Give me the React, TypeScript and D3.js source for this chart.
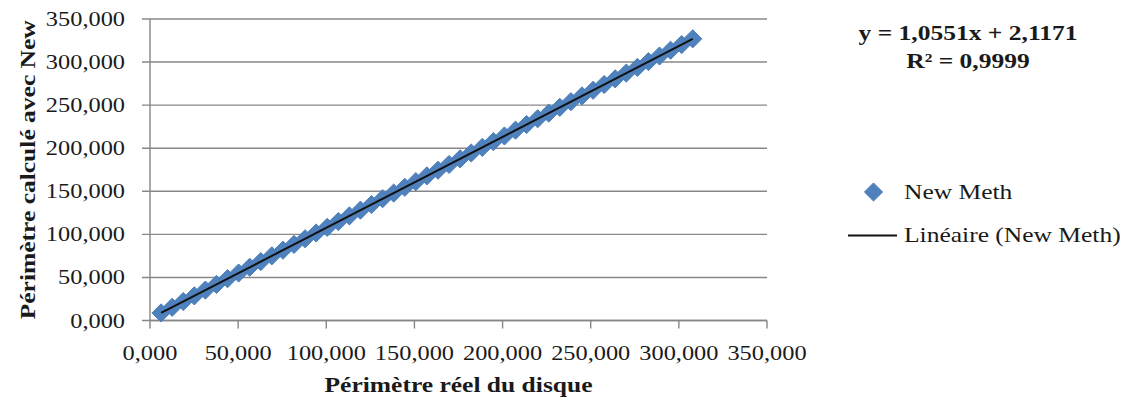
import React from "react";
import * as d3 from "d3";

const perimetreReel = [
  6.283, 12.566, 18.85, 25.133, 31.416, 37.699, 43.982, 50.265, 56.549, 62.832,
  69.115, 75.398, 81.681, 87.965, 94.248, 100.531, 106.814, 113.097, 119.381, 125.664,
  131.947, 138.23, 144.513, 150.796, 157.08, 163.363, 169.646, 175.929, 182.212, 188.496,
  194.779, 201.062, 207.345, 213.628, 219.911, 226.195, 232.478, 238.761, 245.044, 251.327,
  257.611, 263.894, 270.177, 276.46, 282.743, 289.027, 295.31, 301.593, 307.876,
];
const perimetreNew = [
  8.81, 15.32, 22.05, 28.6, 35.31, 41.85, 48.57, 55.11, 61.83, 68.37,
  75.08, 81.62, 88.35, 94.89, 101.6, 108.15, 114.86, 121.4, 128.12, 134.66,
  141.38, 147.92, 154.63, 161.18, 167.9, 174.44, 181.15, 187.7, 194.41, 200.96,
  207.68, 214.22, 220.93, 227.48, 234.2, 240.74, 247.45, 254.0, 260.72, 267.26,
  273.97, 280.52, 287.24, 293.78, 300.49, 307.04, 313.76, 320.3, 327.01,
];
const xTicks = [0, 50, 100, 150, 200, 250, 300, 350];
const yTicks = [0, 50, 100, 150, 200, 250, 300, 350];
const seriesName = "New Meth";
const trendName = "Linéaire (New Meth)";
const xTitle = "Périmètre réel du disque";
const yTitle = "Périmètre calculé avec New";
const equationLines = ["y = 1,0551x + 2,1171", "R² = 0,9999"];

const FONT = "'Liberation Serif', 'Times New Roman', serif";
const SX = 1.16;
const GRID = "#878787";
const BLUE = "#4F81BD";

const fmt = (v: number) => d3.format(".3f")(v).replace(".", ",");

function T(props: {
  x: number; y: number; children: React.ReactNode; anchor?: string; size?: number; bold?: boolean; rotate?: number;
}) {
  const { x, y, anchor = "start", size = 22, bold = false, rotate = 0 } = props;
  return (
    <text
      transform={`translate(${x},${y}) rotate(${rotate}) scale(${SX},1)`}
      textAnchor={anchor}
      fontFamily={FONT}
      fontSize={size}
      fontWeight={bold ? "bold" : "normal"}
      fill="#1a1a1a"
    >
      {props.children}
    </text>
  );
}

export default function App() {
  const x = d3.scaleLinear().domain([0, 350]).range([150, 767]);
  const y = d3.scaleLinear().domain([0, 350]).range([320.5, 19]);

  // least-squares trend line
  const n = perimetreReel.length;
  const mx = d3.mean(perimetreReel)!;
  const my = d3.mean(perimetreNew)!;
  let sxy = 0, sxx = 0;
  for (let i = 0; i < n; i++) {
    sxy += (perimetreReel[i] - mx) * (perimetreNew[i] - my);
    sxx += (perimetreReel[i] - mx) ** 2;
  }
  const slope = sxy / sxx;
  const intercept = my - slope * mx;
  const x0 = d3.min(perimetreReel)!;
  const x1 = d3.max(perimetreReel)!;
  const trend = d3.line<number>().x((d) => x(d)).y((d) => y(slope * d + intercept))([x0, x1]) || "";

  const diamond = d3.symbol().type(d3.symbolDiamond2).size(210)() || "";
  const r0 = x.range()[0];
  const r1 = x.range()[1];

  return (
    <div style={{ position: "fixed", left: 0, top: 0 }}>
      <svg width={1131} height={405} style={{ display: "block", background: "#fff" }}>
        {/* gridlines */}
        {yTicks.map((t) => (
          <line key={"g" + t} x1={r0 - 8} x2={r1} y1={y(t)} y2={y(t)} stroke={GRID} strokeWidth={1.4} />
        ))}
        {/* axes */}
        <line x1={r0} x2={r0} y1={y(350)} y2={y(0)} stroke={GRID} strokeWidth={1.4} />
        <line x1={r0} x2={r1} y1={y(0)} y2={y(0)} stroke={GRID} strokeWidth={1.4} />
        {xTicks.map((t) => (
          <line key={"xt" + t} x1={x(t)} x2={x(t)} y1={y(0)} y2={y(0) + 8} stroke={GRID} strokeWidth={1.4} />
        ))}
        {yTicks.map((t) => (
          <T key={"yl" + t} x={125} y={y(t) + 7} anchor="end" size={21}>{fmt(t)}</T>
        ))}
        {xTicks.map((t) => (
          <T key={"xl" + t} x={x(t)} y={359.5} anchor="middle" size={21}>{fmt(t)}</T>
        ))}
        {/* points */}
        {perimetreReel.map((v, i) => (
          <path
            key={"p" + i}
            d={diamond}
            transform={`translate(${x(v)},${y(perimetreNew[i])})`}
            fill={BLUE}
            stroke="#4A7EBB"
            strokeWidth={1}
          />
        ))}
        <path d={trend} fill="none" stroke="#111" strokeWidth={2} />
        {/* titles */}
        <T x={(r0 + r1) / 2} y={392} anchor="middle" bold>{xTitle}</T>
        <T x={35} y={(y(0) + y(350)) / 2} anchor="middle" bold rotate={-90}>{yTitle}</T>
        {/* equation */}
        <T x={968} y={40} anchor="middle" bold>{equationLines[0]}</T>
        <T x={968} y={68} anchor="middle" bold>{equationLines[1]}</T>
        {/* legend */}
        <path d={diamond} transform="translate(873.5,192)" fill={BLUE} stroke="#4A7EBB" strokeWidth={1} />
        <T x={904} y={199}>{seriesName}</T>
        <line x1={848} x2={897} y1={235.5} y2={235.5} stroke="#111" strokeWidth={2} />
        <T x={904} y={242}>{trendName}</T>
      </svg>
    </div>
  );
}
